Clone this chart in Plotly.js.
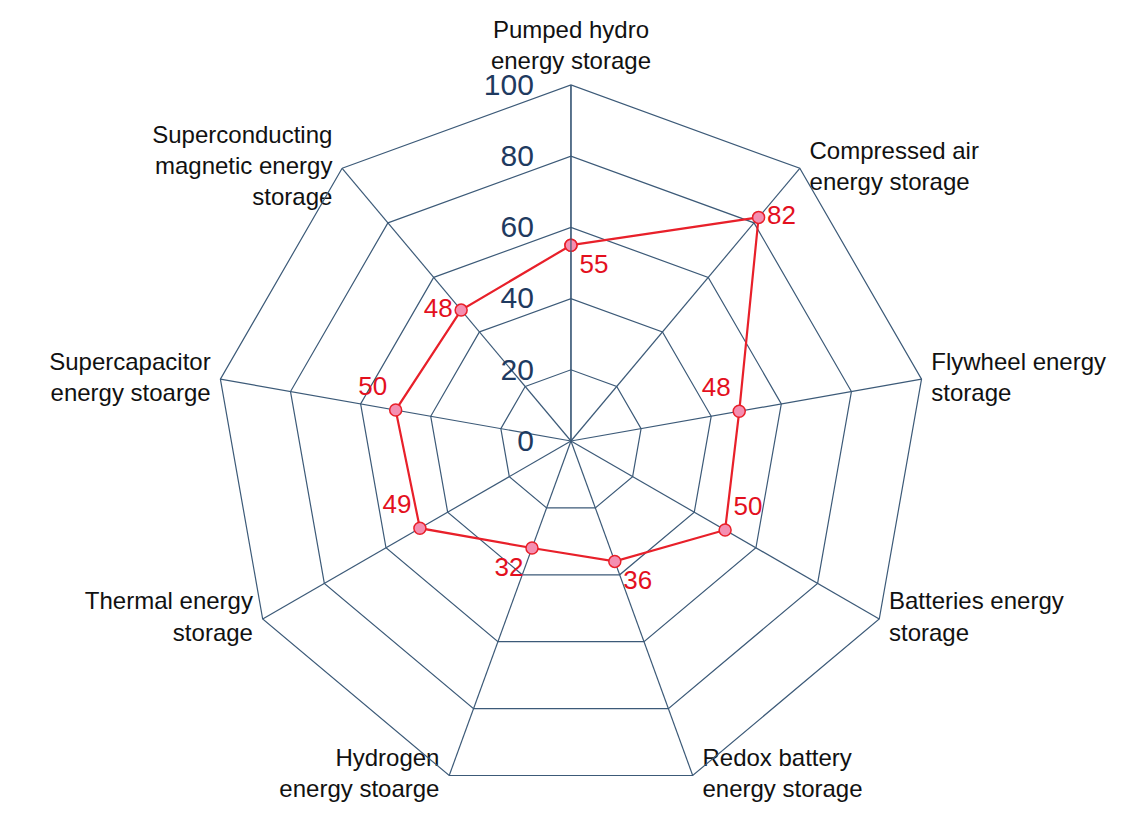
<!DOCTYPE html>
<html><head><meta charset="utf-8">
<script src="https://cdn.plot.ly/plotly-3.0.1.min.js"></script>
<style>html,body{margin:0;padding:0;background:#fff}#chart{width:1135px;height:819px}</style>
</head><body><div id="chart"></div>
<script>
const categories = [
  "Pumped hydro<br>energy storage",
  "Compressed air<br>energy storage",
  "Flywheel energy<br>storage",
  "Batteries energy<br>storage",
  "Redox battery<br>energy storage",
  "Hydrogen<br>energy stoarge",
  "Thermal energy<br>storage",
  "Supercapacitor<br>energy stoarge",
  "Superconducting<br>magnetic energy<br>storage"
];
const values = [55, 82, 48, 50, 36, 32, 49, 50, 48];
const valueLabelPositions = ["bottom right","middle right","top left","top right","bottom right","bottom left","top left","top left","middle left"];
const categoryLabelPositions = ["top center","middle right","middle right","middle right","middle right","middle left","middle left","middle left","middle left"];
const radialTicks = [0, 20, 40, 60, 80, 100];
const rMax = 100;

const FONT = "Arial, Liberation Sans, sans-serif";
const rC = categories.concat([categories[0]]);
const rV = values.concat([values[0]]);
const rT = values.map(String).concat([""]);
const rP = valueLabelPositions.concat(["bottom right"]);

const dataTrace = {
  type: "scatterpolar",
  r: rV, theta: rC,
  mode: "lines+markers+text",
  text: rT,
  textposition: rP,
  textfont: {family: FONT, size: 26, color: "#E3101E"},
  line: {color: "#E8202A", width: 2.2},
  marker: {size: 12, color: "#F48FB1", line: {color: "#E8202A", width: 1.5}},
  cliponaxis: false,
  hoverinfo: "skip"
};
const labelTrace = {
  type: "scatterpolar",
  r: categories.map(() => rMax), theta: categories,
  mode: "markers+text",
  text: categories,
  textposition: categoryLabelPositions,
  textfont: {family: FONT, size: 24, color: "#111"},
  marker: {size: 14, opacity: 0},
  cliponaxis: false,
  hoverinfo: "skip"
};
const gridCol = "#3C5A78";
const layout = {
  width: 1135, height: 819,
  margin: {l:0, r:0, t:0, b:0},
  paper_bgcolor: "#fff",
  showlegend: false,
  polar: {
    domain: {x: [0.1894, 0.8167], y: [0.0269, 0.8962]},
    gridshape: "linear",
    bgcolor: "rgba(0,0,0,0)",
    angularaxis: {
      rotation: 90, direction: "clockwise",
      showticklabels: false,
      linecolor: gridCol, linewidth: 1.2,
      gridcolor: gridCol, gridwidth: 1.2,
      ticks: "", showline: true
    },
    radialaxis: {
      range: [0, rMax], tickvals: radialTicks, ticktext: radialTicks.map(String),
      angle: 90, tickangle: 90, side: "counterclockwise",
      ticks: "outside", ticklen: 26, tickcolor: "rgba(0,0,0,0)",
      tickfont: {family: FONT, size: 30, color: "#1F3A60"},
      gridcolor: gridCol, gridwidth: 1.2,
      linecolor: gridCol, linewidth: 1.2, showline: true
    }
  }
};
Plotly.newPlot("chart", [dataTrace, labelTrace], layout, {displayModeBar: false, staticPlot: true});
</script></body></html>
